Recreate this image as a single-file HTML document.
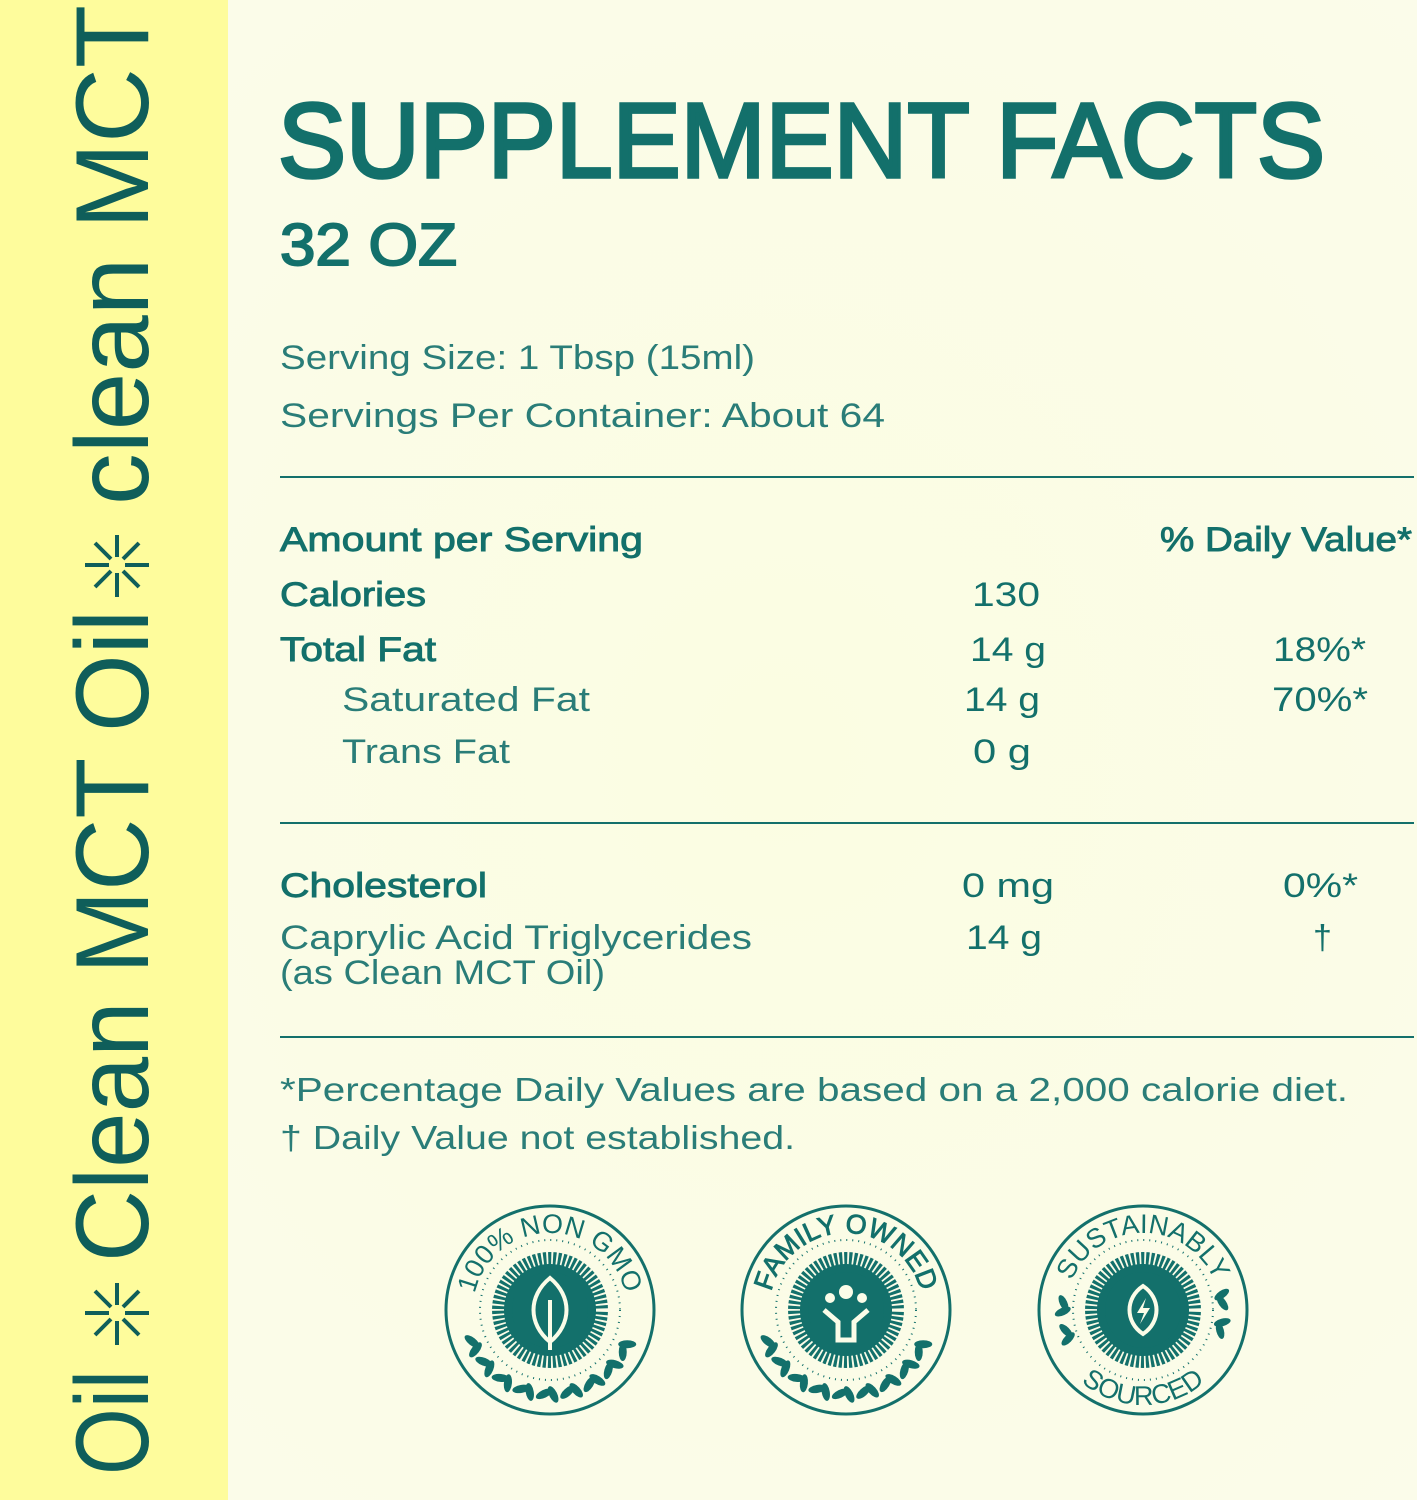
<!DOCTYPE html>
<html><head><meta charset="utf-8"><style>
html,body{margin:0;padding:0;background:#fbfce8}
svg{display:block}
text{font-family:"Liberation Sans",sans-serif;fill:#13706b}
.m{stroke:#13706b;stroke-width:0.9}
</style></head><body>
<svg width="1417" height="1500" viewBox="0 0 1417 1500" xmlns="http://www.w3.org/2000/svg">
<defs>
<radialGradient id="bg" cx="0.55" cy="0.5" r="0.7"><stop offset="0" stop-color="#fbfde2"/><stop offset="1" stop-color="#fbfcea"/></radialGradient>
</defs>
<rect width="1417" height="1500" fill="url(#bg)"/>
<rect width="228" height="1500" fill="#fefc9c"/>
<text transform="translate(148,1475) rotate(-90)" font-size="104" textLength="105" lengthAdjust="spacingAndGlyphs" style="fill:#0f5e5a">Oil</text>
<text transform="translate(148,1262) rotate(-90)" font-size="104" textLength="652" lengthAdjust="spacingAndGlyphs" style="fill:#0f5e5a">Clean MCT Oil</text>
<text transform="translate(148,505) rotate(-90)" font-size="104" textLength="500" lengthAdjust="spacingAndGlyphs" style="fill:#0f5e5a">clean MCT</text>
<g stroke="#0f5e5a" stroke-width="4">
<g transform="translate(117,1313)"><line x1="-32" y1="0" x2="-8" y2="0"/><line x1="8" y1="0" x2="32" y2="0"/><line x1="0" y1="-30" x2="0" y2="-8"/><line x1="0" y1="8" x2="0" y2="32"/><line x1="-22" y1="-22" x2="-6" y2="-6"/><line x1="6" y1="6" x2="22" y2="22"/><line x1="22" y1="-22" x2="6" y2="-6"/><line x1="-6" y1="6" x2="-22" y2="22"/></g>
<g transform="translate(117,565)"><line x1="-32" y1="0" x2="-8" y2="0"/><line x1="8" y1="0" x2="32" y2="0"/><line x1="0" y1="-30" x2="0" y2="-8"/><line x1="0" y1="8" x2="0" y2="32"/><line x1="-22" y1="-22" x2="-6" y2="-6"/><line x1="6" y1="6" x2="22" y2="22"/><line x1="22" y1="-22" x2="6" y2="-6"/><line x1="-6" y1="6" x2="-22" y2="22"/></g>
</g>
<text x="278" y="177" font-size="106" class="m" style="stroke-width:3.5" textLength="1047" lengthAdjust="spacingAndGlyphs">SUPPLEMENT FACTS</text>
<text x="280" y="265" font-size="59" class="m" style="stroke-width:2" textLength="177" lengthAdjust="spacingAndGlyphs">32 OZ</text>
<text x="280" y="369" font-size="34" textLength="475" lengthAdjust="spacingAndGlyphs" style="fill:#2a7d78">Serving Size: 1 Tbsp (15ml)</text>
<text x="280" y="427" font-size="34" textLength="605" lengthAdjust="spacingAndGlyphs" style="fill:#2a7d78">Servings Per Container: About 64</text>
<rect x="280" y="476" width="1134" height="2" fill="#13706b"/>
<g font-size="34">
<text x="280" y="551" class="m" textLength="363" lengthAdjust="spacingAndGlyphs">Amount per Serving</text>
<text x="1160" y="551" class="m" textLength="252" lengthAdjust="spacingAndGlyphs">% Daily Value*</text>
<text x="280" y="606" class="m" textLength="146" lengthAdjust="spacingAndGlyphs">Calories</text>
<text x="972" y="606" textLength="68" lengthAdjust="spacingAndGlyphs">130</text>
<text x="280" y="661" class="m" textLength="156" lengthAdjust="spacingAndGlyphs">Total Fat</text>
<text x="970" y="661" textLength="76" lengthAdjust="spacingAndGlyphs">14 g</text>
<text x="1273" y="661" textLength="93" lengthAdjust="spacingAndGlyphs">18%*</text>
<text x="342" y="711" textLength="248" lengthAdjust="spacingAndGlyphs" style="fill:#2a7d78">Saturated Fat</text>
<text x="964" y="711" textLength="76" lengthAdjust="spacingAndGlyphs">14 g</text>
<text x="1272" y="711" textLength="96" lengthAdjust="spacingAndGlyphs">70%*</text>
<text x="342" y="763" textLength="168" lengthAdjust="spacingAndGlyphs" style="fill:#2a7d78">Trans Fat</text>
<text x="973" y="763" textLength="58" lengthAdjust="spacingAndGlyphs">0 g</text>
</g>
<rect x="280" y="822" width="1134" height="2" fill="#13706b"/>
<g font-size="34">
<text x="280" y="897" class="m" textLength="207" lengthAdjust="spacingAndGlyphs">Cholesterol</text>
<text x="962" y="897" textLength="92" lengthAdjust="spacingAndGlyphs">0 mg</text>
<text x="1283" y="897" textLength="75" lengthAdjust="spacingAndGlyphs">0%*</text>
<text x="280" y="949" textLength="472" lengthAdjust="spacingAndGlyphs" style="fill:#2a7d78">Caprylic Acid Triglycerides</text>
<text x="966" y="949" textLength="76" lengthAdjust="spacingAndGlyphs">14 g</text>
<text x="1313" y="949">†</text>
<text x="280" y="984" textLength="325" lengthAdjust="spacingAndGlyphs" style="fill:#2a7d78">(as Clean MCT Oil)</text>
</g>
<rect x="280" y="1036" width="1134" height="2" fill="#13706b"/>
<text x="280" y="1101" font-size="33" textLength="1068" lengthAdjust="spacingAndGlyphs" style="fill:#2a7d78">*Percentage Daily Values are based on a 2,000 calorie diet.</text>
<text x="280" y="1149" font-size="33" textLength="515" lengthAdjust="spacingAndGlyphs" style="fill:#2a7d78">† Daily Value not established.</text>
<defs>
<path id="arcT" d="M -77 0 A 77 77 0 0 1 77 0"/>
<path id="arcB" d="M -95 0 A 95 95 0 0 0 95 0"/>
<g id="badge">
<circle r="104" fill="none" stroke="#13706b" stroke-width="3"/>
<circle r="70" fill="none" stroke="#13706b" stroke-width="2" stroke-dasharray="1 5"/>
<circle r="58" fill="#13706b"/>
<circle r="56" fill="none" stroke="#fbfce8" stroke-width="20" stroke-dasharray="2 3.3"/>
<circle r="38" fill="#13706b"/>
</g>
<g id="leaf"><ellipse cx="0" cy="84" rx="4" ry="9" transform="rotate(60 0 84)"/><ellipse cx="9" cy="84" rx="4" ry="9" transform="rotate(-30 9 84)"/></g>
<g id="laurel" fill="#13706b">
<use href="#leaf" transform="rotate(68)"/><use href="#leaf" transform="rotate(52)"/><use href="#leaf" transform="rotate(36)"/><use href="#leaf" transform="rotate(20)"/><use href="#leaf" transform="rotate(4)"/><use href="#leaf" transform="rotate(-12)"/><use href="#leaf" transform="rotate(-28)"/><use href="#leaf" transform="rotate(-44)"/><use href="#leaf" transform="rotate(-60)"/>
</g>
</defs>
<g transform="translate(550,1310)">
<use href="#badge"/><use href="#laurel"/>
<text font-size="27"><textPath href="#arcT" startOffset="50%" text-anchor="middle">100% NON GMO</textPath></text>
<path d="M0 -32 C 22 -14 22 14 0 32 C -22 14 -22 -14 0 -32Z" fill="none" stroke="#fbfce8" stroke-width="4"/>
<line x1="0" y1="-10" x2="0" y2="40" stroke="#fbfce8" stroke-width="4"/>
</g>
<g transform="translate(846,1310)">
<use href="#badge"/><use href="#laurel"/>
<text font-size="27" class="m"><textPath href="#arcT" startOffset="50%" text-anchor="middle">FAMILY OWNED</textPath></text>
<circle cx="0" cy="-18" r="7" fill="#fbfce8"/><circle cx="-16" cy="-12" r="5" fill="#fbfce8"/><circle cx="16" cy="-12" r="5" fill="#fbfce8"/>
<path d="M-22 0 L-8 12 L-8 30 L8 30 L8 12 L22 0" fill="none" stroke="#fbfce8" stroke-width="5"/>
</g>
<g transform="translate(1143,1310)">
<use href="#badge"/>
<g fill="#13706b"><use href="#leaf" transform="rotate(75) scale(0.95)"/><use href="#leaf" transform="rotate(95) scale(0.95)"/><use href="#leaf" transform="rotate(-75) scale(0.95)"/><use href="#leaf" transform="rotate(-95) scale(0.95)"/></g>
<text font-size="27"><textPath href="#arcT" startOffset="50%" text-anchor="middle">SUSTAINABLY</textPath></text>
<text font-size="27"><textPath href="#arcB" startOffset="50%" text-anchor="middle">SOURCED</textPath></text>
<path d="M0 -24 C 18 -12 18 12 0 24 C -18 12 -18 -12 0 -24Z" fill="none" stroke="#fbfce8" stroke-width="4"/>
<path d="M3 -12 L-6 3 L1 3 L-3 14 L7 -2 L0 -2Z" fill="#fbfce8"/>
</g>
</svg>
</body></html>
